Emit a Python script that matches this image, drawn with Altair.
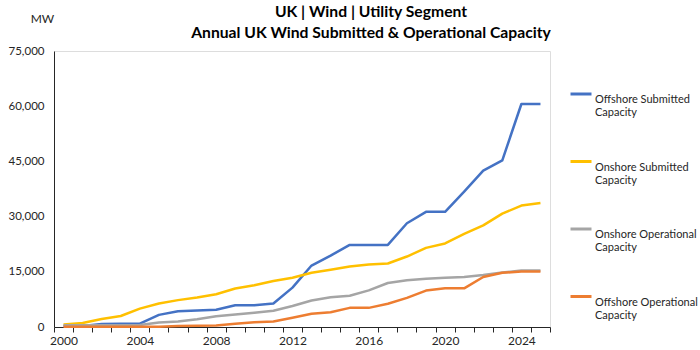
import altair as alt
import pandas as pd

years = list(range(2000, 2026))
offshore_submitted = [200, 300, 800, 900, 900, 3300, 4300, 4500, 4700, 5900, 5900, 6400,
                      10700, 16700, 19400, 22300, 22300, 22300, 28200, 31300, 31300, 36800,
                      42500, 45300, 60600, 60600]
onshore_submitted = [650, 1100, 2200, 3000, 5000, 6400, 7300, 8000, 8900, 10450, 11350, 12500,
                     13400, 14750, 15550, 16450, 17000, 17250, 19150, 21500, 22700, 25300,
                     27600, 30800, 33000, 33700]
onshore_operational = [500, 500, 500, 500, 550, 1250, 1500, 2100, 2900, 3400, 3900, 4400,
                       5700, 7200, 8100, 8500, 9950, 11950, 12700, 13100, 13400, 13600,
                       14100, 14800, 15350, 15350]
offshore_operational = [50, 50, 50, 50, 100, 100, 300, 350, 400, 900, 1300, 1500,
                        2500, 3600, 4000, 5200, 5200, 6300, 7900, 9900, 10500, 10500,
                        13600, 14750, 15050, 15050]

series_names = ["Offshore Submitted Capacity", "Onshore Submitted Capacity",
                "Onshore Operational Capacity", "Offshore Operational Capacity"]
series_values = [offshore_submitted, onshore_submitted, onshore_operational, offshore_operational]
series_colors = ["#4472C4", "#FFC000", "#A5A5A5", "#ED7D31"]

y_ticks = [0, 15000, 30000, 45000, 60000, 75000]
x_tick_values = [y + 0.5 * k for y in range(1999, 2026) for k in (1, 2)][:-1]

rows = []
for name, vals in zip(series_names, series_values):
    for yr, v in zip(years, vals):
        rows.append({"Year": yr, "Series": name, "MW": v})
df = pd.DataFrame(rows)

FONT = "Lato"
TXT = "#262626"

chart = alt.Chart(df).mark_line(strokeWidth=2.5, strokeJoin="round").encode(
    x=alt.X("Year:Q",
            scale=alt.Scale(domain=[1999.5, 2025.5], nice=False, zero=False),
            axis=alt.Axis(values=x_tick_values, title=None, grid=False,
                          labelExpr="datum.value % 4 == 0 ? toString(datum.value) : ''",
                          tickOpacity={"condition": {"test": "datum.value % 1 == 0", "value": 0}, "value": 1},
                          tickSize=5, tickColor=TXT, domainColor=TXT, labelColor=TXT,
                          labelFont=FONT, labelFontSize=12, labelPadding=3,
                          labelOverlap=False, labelFlush=False)),
    y=alt.Y("MW:Q",
            scale=alt.Scale(domain=[0, 75000], nice=False),
            axis=alt.Axis(values=y_ticks, format=",.0f", grid=False, ticks=False, tickSize=0,
                          labelPadding=10, domainColor=TXT, labelColor=TXT,
                          labelFont=FONT, labelFontSize=11.5,
                          title="MW", titleAngle=0, titleX=-12, titleY=-33,
                          titleAlign="center", titleBaseline="middle",
                          titleFont=FONT, titleFontSize=12, titleFontWeight="normal",
                          titleColor=TXT)),
    color=alt.Color("Series:N",
                    scale=alt.Scale(domain=series_names, range=series_colors),
                    sort=series_names,
                    legend=alt.Legend(title=None, orient="none", legendX=515, legendY=31,
                                      symbolType="stroke", symbolSize=441,
                                      symbolStrokeWidth=3, labelFont=FONT,
                                      labelFontSize=11, labelColor=TXT,
                                      labelBaseline="top", labelOffset=2,
                                      rowPadding=31.5, padding=0,
                                      labelExpr="[replace(datum.label, ' Capacity', ''), 'Capacity']")),
).properties(
    width=496, height=276,
    title=alt.TitleParams(
        text=["UK | Wind | Utility Segment", "Annual UK Wind Submitted & Operational Capacity"],
        font=FONT, fontSize=15.7, fontWeight="bold", color="#000000",
        anchor="middle", dx=69, dy=40, offset=10, lineHeight=21),
    autosize=alt.AutoSizeParams(type="none"),
    padding={"left": 54, "top": 51, "right": 150, "bottom": 23},
).configure_view(stroke=None).configure(background="white")

chart.save("out.html", embed_options={"renderer": "svg", "actions": False})
